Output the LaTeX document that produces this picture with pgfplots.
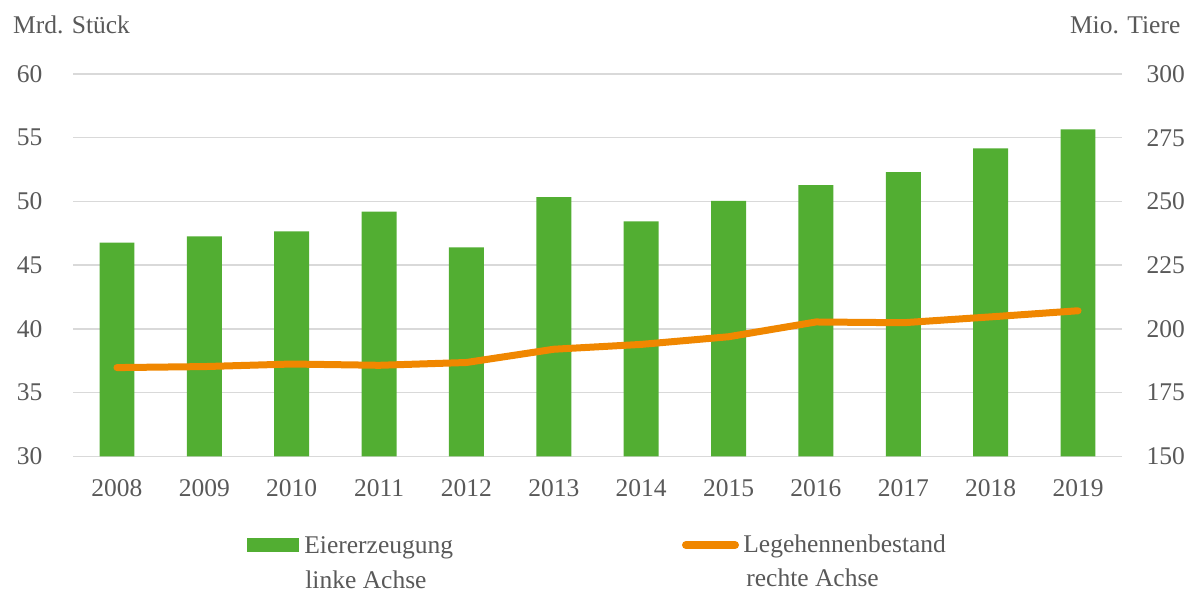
\documentclass[border=0pt]{standalone}
\usepackage{fontspec}
\setmainfont{Liberation Serif}
\usepackage{xcolor}
\usepackage{pgfplots}
\pgfplotsset{compat=1.18}

\definecolor{barGreen}{HTML}{52AE32}
\definecolor{lineOrange}{HTML}{F08700}
\definecolor{txtGray}{HTML}{595959}
\definecolor{gridGray}{HTML}{D9D9D9}

\newcommand{\chartfont}{\fontsize{12.75pt}{15pt}\selectfont}

% Eiererzeugung (Mrd. Stueck), linke Achse
\pgfplotstableread{
x  eier
0  46.76
1  47.25
2  47.65
3  49.20
4  46.40
5  50.34
6  48.43
7  50.05
8  51.28
9  52.30
10 54.16
11 55.66
}\eier

% Legehennenbestand (Mio. Tiere), rechte Achse
\pgfplotstableread{
x  hennen
0  184.8
1  185.2
2  186.2
3  185.7
4  186.8
5  192.0
6  193.9
7  196.9
8  202.7
9  202.4
10 204.7
11 207.1
}\hennen

\pgfplotsset{
  twin/.style={
    scale only axis,
    width=524.2pt, height=191.15pt,
    xmin=-0.5, xmax=11.5,
    axis line style={draw=none},
    tick style={draw=none},
    tick label style={font=\chartfont, text=txtGray, inner sep=0pt},
    /pgf/number format/assume math mode=true,
  },
}

\begin{document}
\begin{tikzpicture}
\useasboundingbox (-36.65pt,-67.85pt) rectangle (555.85pt,228.15pt);

\begin{axis}[
  twin,
  ymin=30, ymax=60,
  ytick={30,35,...,60},
  xtick={0,...,11},
  xticklabels={2008,2009,2010,2011,2012,2013,2014,2015,2016,2017,2018,2019},
  xticklabel style={anchor=base, yshift=-20pt},
  yticklabel style={anchor=east, xshift=-15.2pt},
  ymajorgrids,
  grid style={color=gridGray, line width=0.75pt},
]
\addplot[ybar, bar width=0.4, fill=barGreen, draw=none] table[x=x, y=eier] {\eier};
\end{axis}

\begin{axis}[
  twin,
  ymin=150, ymax=300,
  ytick={150,175,...,300},
  xtick=\empty,
  yticklabel pos=right,
  yticklabel style={anchor=west, xshift=12.2pt},
]
\addplot[color=lineOrange, line width=3.5pt, line join=round, line cap=round]
  table[x=x, y=hennen] {\hennen};
\end{axis}

% Achsentitel
\node[anchor=base west, inner sep=0pt, font=\chartfont, text=txtGray]
  at (-30.3pt,211.15pt) {Mrd. Stück};
\node[anchor=base east, inner sep=0pt, font=\chartfont, text=txtGray]
  at (553.7pt,211.5pt) {Mio. Tiere};

% Legende
\fill[barGreen] (87pt,-47.7pt) rectangle (112.85pt,-41pt);
\node[anchor=base west, inner sep=0pt, font=\chartfont, text=txtGray]
  at (115.35pt,-48.5pt) {Eiererzeugung};
\node[anchor=base west, inner sep=0pt, font=\chartfont, text=txtGray]
  at (115.85pt,-66pt) {linke Achse};
\draw[lineOrange, line width=4pt, line cap=round] (306.35pt,-44.35pt) -- (330.85pt,-44.35pt);
\node[anchor=base west, inner sep=0pt, font=\chartfont, text=txtGray]
  at (334.85pt,-48.35pt) {Legehennenbestand};
\node[anchor=base west, inner sep=0pt, font=\chartfont, text=txtGray]
  at (336.35pt,-65.2pt) {rechte Achse};
\end{tikzpicture}
\end{document}
